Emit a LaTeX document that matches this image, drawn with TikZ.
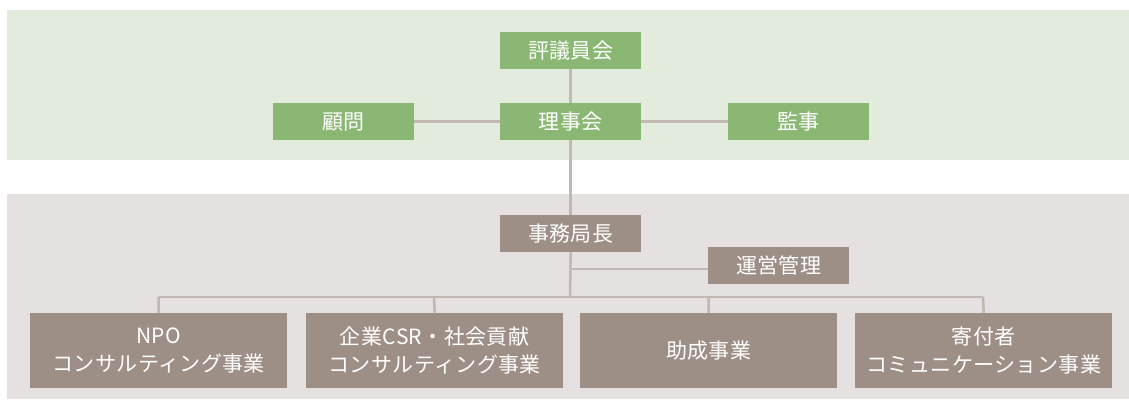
\documentclass[tikz,border=0pt]{standalone}
\usepackage{fontspec}
\newfontfamily\jp[LetterSpace=2]{Noto Sans CJK JP}
\definecolor{bandgreen}{HTML}{E3ECDC}
\definecolor{bandgray}{HTML}{E4E1E0}
\definecolor{boxgreen}{HTML}{8AB874}
\definecolor{boxbrown}{HTML}{9E8F86}
\definecolor{linecol}{HTML}{C0B8B1}
\begin{document}
\begin{tikzpicture}[x=1pt,y=-1pt,
  gbox/.style={fill=boxgreen,draw=none,minimum width=141pt,minimum height=37pt,inner sep=0pt,text=white,font=\jp\fontsize{21}{26}\selectfont,anchor=north west},
  bbox/.style={fill=boxbrown,draw=none,minimum width=141pt,minimum height=37pt,inner sep=0pt,text=white,font=\jp\fontsize{21}{26}\selectfont,anchor=north west},
  wbox/.style={fill=boxbrown,draw=none,minimum width=257pt,minimum height=75pt,inner sep=0pt,text=white,align=center,font=\jp\fontsize{21}{28}\selectfont,anchor=north west},
  conn/.style={draw=linecol,line width=2.5pt}]
\useasboundingbox (0,0) rectangle (1129,400);
\fill[bandgreen] (7,10) rectangle (1129,160);
\fill[bandgray] (7,194) rectangle (1129,399);
% connectors
\coordinate (bus) at (570,297);
\coordinate (mgmtj) at (570,269);
\coordinate (busL) at (158.5,297);
\coordinate (busR) at (983,297);
\coordinate (d2) at (434,297);
\coordinate (d3) at (708.5,297);
\node[gbox] (hyo) at (500,32) {評議員会};
\node[gbox] (riji) at (500,103) {理事会};
\node[gbox] (komon) at (273,103) {顧問};
\node[gbox] (kanji) at (728,103) {監事};
\node[bbox] (jimu) at (500,215) {事務局長};
\node[bbox] (unei) at (708,247) {運営管理};
\node[wbox] (b1) at (30,313) {NPO\\コンサルティング事業};
\node[wbox] (b2) at (306,313) {企業CSR・社会貢献\\コンサルティング事業};
\node[wbox] (b3) at (580,313) {助成事業};
\node[wbox] (b4) at (855,313) {寄付者\\コミュニケーション事業};
\draw[conn] (hyo.south) -- (riji.north);
\draw[conn] (riji.south) -- (jimu.north);
\draw[conn] (komon.east) -- (riji.west);
\draw[conn] (riji.east) -- (kanji.west);
\draw[conn] (jimu.south) -- (bus);
\draw[conn] (mgmtj) -- (mgmtj -| unei.west);
\draw[conn] (busL) -- (busR);
\draw[conn] (busL) -- (b1.north);
\draw[conn] (d2) -- (b2.north);
\draw[conn] (d3) -- (b3.north);
\draw[conn] (busR) -- (b4.north);
\end{tikzpicture}
\end{document}
